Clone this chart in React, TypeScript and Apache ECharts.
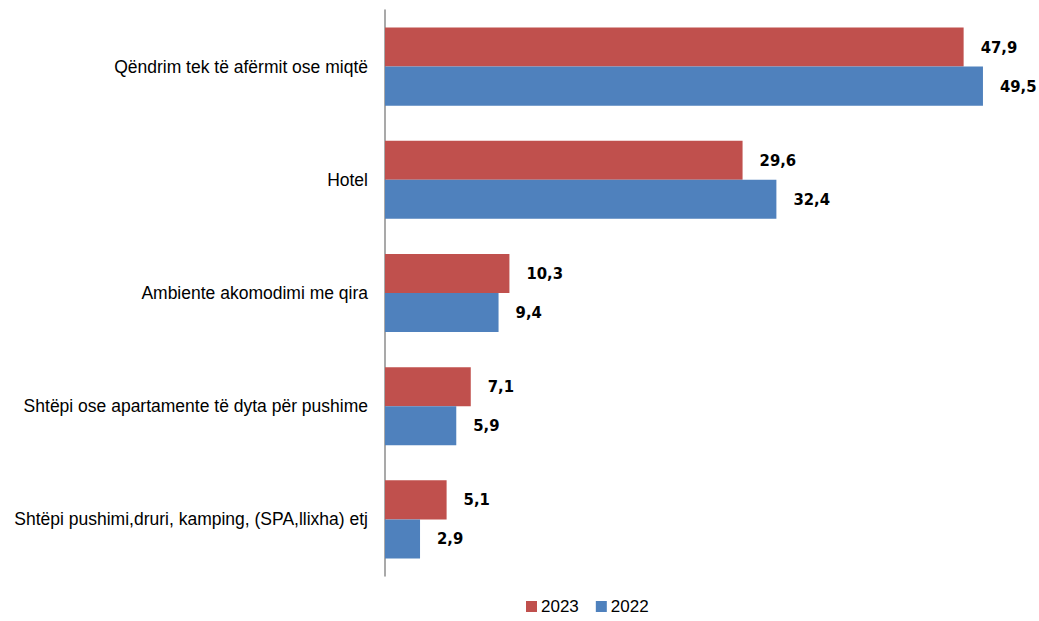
import React, { useEffect, useRef } from "react";
import * as echarts from "echarts";

const categories = [
  "Qëndrim tek të afërmit ose miqtë",
  "Hotel",
  "Ambiente akomodimi me qira",
  "Shtëpi ose apartamente të dyta për pushime",
  "Shtëpi pushimi,druri, kamping, (SPA,llixha) etj",
];
const values2023 = [47.9, 29.6, 10.3, 7.1, 5.1];
const values2022 = [49.5, 32.4, 9.4, 5.9, 2.9];

export default function App() {
  const ref = useRef<HTMLDivElement>(null);
  useEffect(() => {
    const chart = echarts.init(ref.current!, null, { renderer: "svg" });
    const label = {
      show: true,
      position: "right",
      distance: 17,
      fontFamily: "'DejaVu Sans Condensed', 'Liberation Sans', sans-serif",
      fontWeight: "bold",
      fontSize: 16.5,
      color: "#000",
      formatter: (p: any) => String(p.value.toFixed(1)).replace(".", ","),
    };
    chart.setOption({
      animation: false,
      backgroundColor: "#fff",
      textStyle: { fontFamily: "Liberation Sans" },
      grid: { left: 385, right: 50, top: 10, bottom: 45 },
      legend: {
        bottom: 1,
        left: 521,
        itemWidth: 11,
        itemHeight: 11,
        itemGap: 17,
        icon: "rect",
        textStyle: { fontFamily: "Liberation Sans", fontSize: 17, color: "#000", padding: [0, 0, 0, -1] },
        data: ["2023", "2022"],
      },
      xAxis: {
        type: "value",
        min: 0,
        max: 50,
        show: false,
      },
      yAxis: {
        type: "category",
        inverse: true,
        data: categories,
        axisLine: { show: true, lineStyle: { color: "#8c8c8c", width: 1.5 } },
        axisTick: { show: false },
        axisLabel: {
          margin: 17,
          fontFamily: "Liberation Sans",
          fontSize: 17.5,
          color: "#000",
        },
      },
      series: [
        {
          name: "2023",
          type: "bar",
          data: values2023,
          itemStyle: { color: "#C0504D" },
          barGap: "0%",
          barCategoryGap: "31%",
          label,
        },
        {
          name: "2022",
          type: "bar",
          data: values2022,
          itemStyle: { color: "#4F81BD" },
          barGap: "0%",
          barCategoryGap: "31%",
          label,
        },
      ],
    });
    return () => chart.dispose();
  }, []);
  return (
    <div
      ref={ref}
      style={{ position: "fixed", left: 0, top: 0, width: 1039, height: 621 }}
    />
  );
}
